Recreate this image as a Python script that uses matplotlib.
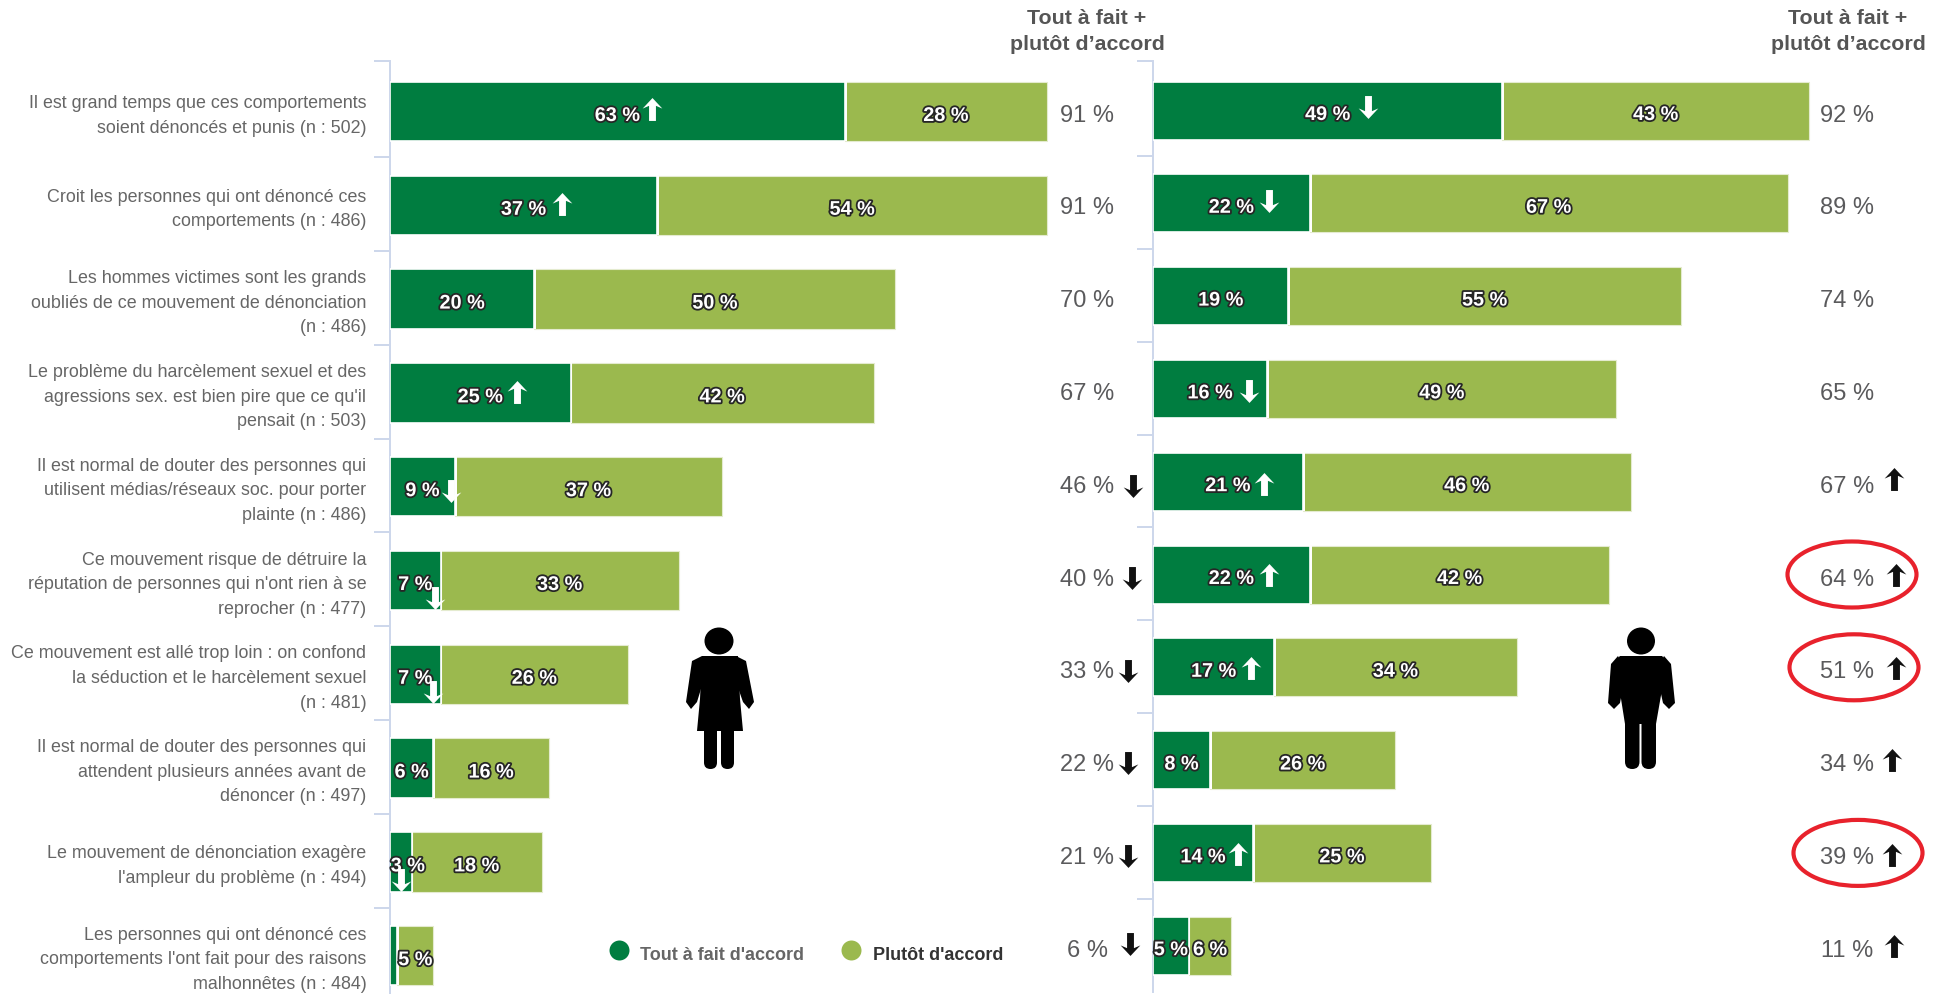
import matplotlib
matplotlib.use("Agg")
import matplotlib.pyplot as plt
import matplotlib.patheffects as pe
import numpy as np
from matplotlib.patches import Ellipse, FancyBboxPatch, Polygon
from matplotlib.path import Path

plt.rcParams["font.family"] = ["Liberation Sans", "DejaVu Sans"]

# data
categories = [
    "Il est grand temps que ces comportements\nsoient dénoncés et punis (n : 502)",
    "Croit les personnes qui ont dénoncé ces\ncomportements (n : 486)",
    "Les hommes victimes sont les grands\noubliés de ce mouvement de dénonciation\n(n : 486)",
    "Le problème du harcèlement sexuel et des\nagressions sex. est bien pire que ce qu'il\npensait (n : 503)",
    "Il est normal de douter des personnes qui\nutilisent médias/réseaux soc. pour porter\nplainte (n : 486)",
    "Ce mouvement risque de détruire la\nréputation de personnes qui n'ont rien à se\nreprocher (n : 477)",
    "Ce mouvement est allé trop loin : on confond\nla séduction et le harcèlement sexuel\n(n : 481)",
    "Il est normal de douter des personnes qui\nattendent plusieurs années avant de\ndénoncer (n : 497)",
    "Le mouvement de dénonciation exagère\nl'ampleur du problème (n : 494)",
    "Les personnes qui ont dénoncé ces\ncomportements l'ont fait pour des raisons\nmalhonnêtes (n : 484)",
]
women_full = [63, 37, 20, 25, 9, 7, 7, 6, 3, 1]
women_part = [28, 54, 50, 42, 37, 33, 26, 16, 18, 5]
women_total = [91, 91, 70, 67, 46, 40, 33, 22, 21, 6]
men_full = [49, 22, 19, 16, 21, 22, 17, 8, 14, 5]
men_part = [43, 67, 55, 49, 46, 42, 34, 26, 25, 6]
men_total = [92, 89, 74, 65, 67, 64, 51, 34, 39, 11]

# arrows: 1 up, -1 down, 0 none
women_full_dir = [1, 1, 0, 1, -1, -1, -1, 0, -1, 0]
men_full_dir = [-1, -1, 0, -1, 1, 1, 1, 0, 1, 0]
women_total_dir = [0, 0, 0, 0, -1, -1, -1, -1, -1, -1]
men_total_dir = [0, 0, 0, 0, 1, 1, 1, 1, 1, 1]

# arrow offsets from the value label, pixels
women_arrow_dx = [35, 38, 0, 37, 29, 20, 18, 0, -7, 0]
women_arrow_dy = [-7, -5, 0, -5, 0, 13, 14, 0, 14, 0]
men_arrow_dx = [40, 38, 0, 39, 36, 38, 37, 0, 35, 0]
men_arrow_dy = [-8, -6, 0, -2, -2, -4, -3, 0, -3, 0]
women_total_arrow_x = [0, 0, 0, 0, 1133, 1132, 1128, 1128, 1128, 1130]
women_total_arrow_dy = [0, 0, 0, 0, 0, -1, 0, -1, -1, -6]
men_total_arrow_x = [0, 0, 0, 0, 1894, 1896, 1896, 1892, 1892, 1894]
men_total_arrow_dy = [0, 0, 0, 0, -7, -4, -3, -4, -2, -4]
circled_rows = [5, 6, 8]

DARK = "#007d40"
LIGHT = "#9bb94e"
GREY = "#5a5a5c"
AXIS = "#ccd6eb"

W, H = 1944, 995
fig = plt.figure(figsize=(W / 100, H / 100), dpi=100, facecolor="white")


def make_axes(x0, px_pct, top, bottom, center0, px_row):
    ax = fig.add_axes([x0 / W, 1 - bottom / H, 100 * px_pct / W, (bottom - top) / H])
    ax.set_xlim(0, 100)
    ax.set_ylim((bottom - center0) / px_row, (top - center0) / px_row)
    for s in ["top", "right", "bottom"]:
        ax.spines[s].set_visible(False)
    ax.spines["left"].set_color(AXIS)
    ax.spines["left"].set_linewidth(1.4)
    ax.set_xticks([])
    start = (top + 2.3 - center0) / px_row
    ax.set_yticks([(top - center0) / px_row] + [start + i for i in range(1, 10)])
    ax.set_yticklabels([])
    ax.tick_params(axis="y", which="major", length=11.5, width=1.4, color=AXIS)
    ax.patch.set_alpha(0)
    return ax


def up_arrow():
    return Path([(0, 1), (0.86, 0.08), (0.3, 0.32), (0.3, -1), (-0.3, -1), (-0.3, 0.32), (-0.86, 0.08), (0, 1)], closed=True)


def draw_arrow(ax, x, y, direction, color):
    p = up_arrow()
    if direction < 0:
        p = Path(p.vertices * [1, -1], closed=True)
    ax.plot([x], [y], marker=p, ms=16.5, mfc=color, mec="none", ls="none", clip_on=False, zorder=6)


def draw_chart(ax, full, part, dirs, adx, ady, px_pct, px_row, height, shifts):
    y = np.arange(10)
    ax.barh(y, full, height=height, color=DARK, edgecolor="white", linewidth=1.2, zorder=3)
    ax.barh(y, part, left=full, height=height, color=LIGHT, edgecolor="#e4ebcf", linewidth=0.8, zorder=3)
    ax.barh(y, [0.25] * 10, left=full, height=height, color="white", zorder=4)
    stroke = [pe.withStroke(linewidth=2.6, foreground="#262626")]
    for i in y:
        lx = full[i] / 2 + shifts.get(int(i), 0) / px_pct
        ly = i + 4 / px_row
        if full[i] >= 3:
            ax.text(lx, ly, f"{full[i]} %", color="white", fontsize=14.3, fontweight="bold", ha="center", va="center",
                    path_effects=stroke, clip_on=False, zorder=5)
        ax.text(full[i] + part[i] / 2, ly, f"{part[i]} %", color="white", fontsize=14.3, fontweight="bold", ha="center",
                va="center", path_effects=stroke, zorder=5)
        if dirs[i]:
            draw_arrow(ax, lx + adx[i] / px_pct, ly + ady[i] / px_row, dirs[i], "white")


PX_L, ROW_L = 7.22, 93.8
PX_R, ROW_R = 7.13, 92.8
X_L, X_R = 390, 1153

ax_l = make_axes(X_L, PX_L, 62, 995, 112.5, ROW_L)
ax_r = make_axes(X_R, PX_R, 62, 993, 111.5, ROW_R)

draw_chart(ax_l, women_full, women_part, women_full_dir, women_arrow_dx, women_arrow_dy, PX_L, ROW_L, 0.635, {8: 7})
draw_chart(ax_r, men_full, men_part, men_full_dir, men_arrow_dx, men_arrow_dy, PX_R, ROW_R, 0.625, {})

# category labels sit on minor ticks
ax_l.set_yticks(np.arange(10) - 0.027, categories, minor=True)
ax_l.tick_params(axis="y", which="minor", length=0, pad=17, labelsize=12.9, labelcolor="#666666")
for t in ax_l.get_yticklabels(minor=True):
    t.set_linespacing(1.58)
ax_r.tick_params(axis="y", which="minor", length=0)

# totals, both columns on the right chart's rows
def to_x(px):
    return (px - X_R) / PX_R


for i in range(10):
    yy = i + 4 / ROW_R
    ax_r.text(to_x(1087), yy, f"{women_total[i]} %", color=GREY, fontsize=17, ha="center", va="center", clip_on=False)
    ax_r.text(to_x(1847), yy, f"{men_total[i]} %", color=GREY, fontsize=17, ha="center", va="center", clip_on=False)
    if women_total_dir[i]:
        draw_arrow(ax_r, to_x(women_total_arrow_x[i]), yy + women_total_arrow_dy[i] / ROW_R, women_total_dir[i], "#111111")
    if men_total_dir[i]:
        draw_arrow(ax_r, to_x(men_total_arrow_x[i]), yy + men_total_arrow_dy[i] / ROW_R, men_total_dir[i], "#111111")

for i, cx in zip(circled_rows, [1852, 1854, 1858]):
    ax_r.add_patch(Ellipse((to_x(cx), i + 0.0), 129 / PX_R, 66 / ROW_R, fill=False, edgecolor="#e8222c", linewidth=3,
                           clip_on=False, zorder=7))

# overlay in pixels for headers, legend and the two figures
ov = fig.add_axes([0, 0, 1, 1])
ov.set_xlim(0, W)
ov.set_ylim(H, 0)
ov.axis("off")
ov.patch.set_alpha(0)

for cx in [1087, 1848]:
    ov.text(cx, 31.5, "Tout à fait +\nplutôt d’accord", color="#555555", fontsize=15.4, fontweight="bold", ha="center",
            va="center", linespacing=1.42)

ov.scatter([619], [951], s=207, color=DARK, linewidths=0)
ov.scatter([851], [951], s=207, color=LIGHT, linewidths=0)
ov.text(640, 955, "Tout à fait d'accord", color="#666666", fontsize=13, fontweight="bold", va="center")
ov.text(873, 955, "Plutôt d'accord", color="#333333", fontsize=13, fontweight="bold", va="center")


def limb(x0, y0, w, h):
    r = min(w, h) / 2
    ov.add_patch(FancyBboxPatch((x0 + r, y0 + r), w - 2 * r, h - 2 * r, boxstyle=f"round,pad={r}", fc="black", ec="none"))


# woman
ov.add_patch(Ellipse((719, 642), 29, 27, fc="black", ec="none"))
ov.add_patch(Polygon([(702, 657), (738, 657), (740, 700), (743, 732), (697, 732), (700, 700)], fc="black", ec="none"))
ov.add_patch(Polygon([(702, 657), (692, 662), (686, 703), (691, 710), (697, 703), (704, 680)], fc="black", ec="none"))
ov.add_patch(Polygon([(736, 657), (746, 662), (754, 703), (749, 710), (743, 703), (735, 680)], fc="black", ec="none"))
limb(704, 726, 13, 44)
limb(721, 726, 13, 44)

# man
ov.add_patch(Ellipse((1641, 642), 28, 27, fc="black", ec="none"))
ov.add_patch(Polygon([(1620, 657), (1662, 657), (1667, 662), (1656, 725), (1625, 725), (1615, 662)], fc="black", ec="none"))
ov.add_patch(Polygon([(1618, 657), (1611, 665), (1608, 704), (1614, 710), (1620, 704), (1626, 672)], fc="black", ec="none"))
ov.add_patch(Polygon([(1664, 657), (1671, 665), (1675, 704), (1669, 710), (1663, 704), (1656, 672)], fc="black", ec="none"))
limb(1625, 715, 14.5, 55)
limb(1641.5, 715, 14.5, 55)

fig.savefig("out.png", dpi=100)
